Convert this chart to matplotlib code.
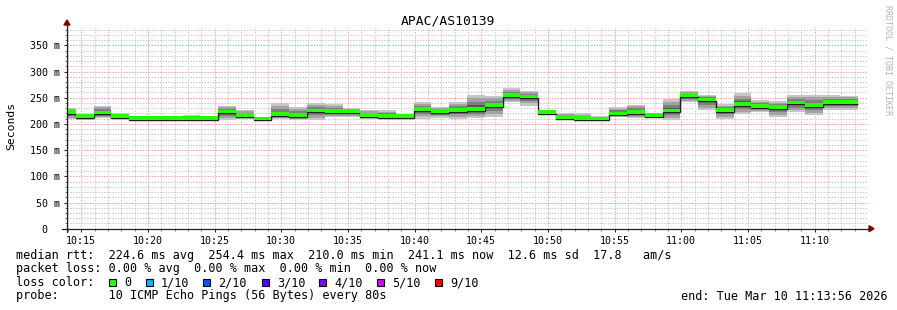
import matplotlib
matplotlib.use("Agg")
import matplotlib.pyplot as plt
import matplotlib.dates as mdates
import matplotlib.ticker as ticker
from matplotlib.lines import Line2D
from matplotlib.patches import Polygon, Rectangle
import numpy as np
import pandas as pd

# --- data ------------------------------------------------------------------
title = "APAC/AS10139"
first_edge = "2026-03-10 10:13:16"
step = "80s"
view_start = "2026-03-10 10:13:56"
view_end = "2026-03-10 11:13:56"

median_ms = [222, 214, 221, 215, 210.5, 210.5, 210.5, 210.5, 210.5, 223,
             217, 210, 218, 216.5, 225, 224, 224, 217, 215, 214,
             227.5, 224, 226, 228.5, 235.5, 254.5, 252, 222, 213, 211,
             210, 219.5, 222.5, 216, 225, 254, 246, 226, 238, 234,
             232, 240.5, 235, 241, 241]
smoke_lo = [209, 208, 211, 211, 209, 209, 209, 209, 209, 208,
            210, 208, 210, 208, 208, 213, 213, 210, 211, 211,
            210, 211, 210, 211, 213, 241, 235, 217, 210, 209,
            207, 213, 211, 211, 208, 241, 226, 210, 218, 222,
            213, 222, 217, 227.5, 226]
smoke_hi = [230, 218, 235, 220, 212, 212, 212, 217, 212, 235,
            226, 211, 240, 232, 240, 238, 231, 226, 226, 219,
            241, 233, 241, 256, 253, 268, 263, 226, 221, 220,
            215.5, 232.5, 237, 221, 247, 262, 256, 238, 259, 245,
            243, 256, 256, 256, 254]

y_ticks = [0, 50, 100, 150, 200, 250, 300, 350]
y_tick_labels = ["0  ", "50 m", "100 m", "150 m", "200 m", "250 m", "300 m", "350 m"]

loss_labels = ["0", "1/10", "2/10", "3/10", "4/10", "5/10", "9/10"]
loss_colors = ["#26ff00", "#00b8ff", "#0059ff", "#5e00ff", "#7e00ff", "#dd00ff", "#ff0000"]

stats_rtt = "median rtt:  224.6 ms avg  254.4 ms max  210.0 ms min  241.1 ms now  12.6 ms sd  17.8   am/s"
stats_loss = "packet loss: 0.00 % avg  0.00 % max  0.00 % min  0.00 % now"
probe_text = "probe:       10 ICMP Echo Pings (56 Bytes) every 80s"
end_text = "end: Tue Mar 10 11:13:56 2026"
watermark = "RRDTOOL / TOBI OETIKER"

# --- layout helpers (pixel -> figure fraction) ------------------------------
W, H = 897, 310
MONO = "DejaVu Sans Mono"


def fx(x):
    return x / W


def fy(y):
    return 1 - y / H


fig = plt.figure(figsize=(W / 100, H / 100), dpi=100)
fig.patch.set_facecolor("white")

ax_left, ax_right, ax_top, ax_bottom = 67, 867, 27, 228.7
ax = fig.add_axes([fx(ax_left), fy(ax_bottom), (ax_right - ax_left) / W, (ax_bottom - ax_top) / H])
ax.set_facecolor("white")

edges = pd.date_range(first_edge, periods=len(median_ms) + 1, freq=step)
edges_num = mdates.date2num(edges.to_pydatetime())

med = np.array(median_ms, dtype=float)
lo = np.array(smoke_lo, dtype=float)
hi = np.array(smoke_hi, dtype=float)

# smoke, light outside -> darker toward the median
for frac, col in [(1.0, "#c6c6c6"), (0.75, "#a2a2a2"), (0.5, "#7e7e7e"), (0.25, "#555555")]:
    ax.stairs(med + (hi - med) * frac, edges_num, baseline=med - (med - lo) * frac,
              fill=True, color=col, lw=0, zorder=2)

ax.stairs(med - 3.0, edges_num, baseline=None, color="#202020", lw=1.0, zorder=3)
ax.stairs(med + 4.0, edges_num, baseline=med - 3.0, fill=True, color=loss_colors[0], lw=0, zorder=4)

ax.set_xlim(mdates.date2num(pd.Timestamp(view_start)), mdates.date2num(pd.Timestamp(view_end)))
ax.set_ylim(0, 385)

ax.xaxis.set_major_locator(mdates.MinuteLocator(byminute=range(0, 60, 5)))
ax.xaxis.set_minor_locator(mdates.MinuteLocator())
ax.xaxis.set_major_formatter(mdates.DateFormatter("%H:%M"))
ax.yaxis.set_major_locator(ticker.FixedLocator(y_ticks))
ax.yaxis.set_major_formatter(ticker.FixedFormatter(y_tick_labels))
ax.yaxis.set_minor_locator(ticker.MultipleLocator(10))

ax.set_axisbelow(True)
ax.grid(which="minor", color="#c8c8c8", linestyle=(0, (1.4, 1.4)), linewidth=0.72)
ax.grid(which="major", color="#f2a0a0", linestyle=(0, (1.4, 1.4)), linewidth=0.72)

for s in ax.spines.values():
    s.set_visible(False)

ax.tick_params(which="major", direction="out", length=2.2, width=0.7, color="#202020",
               labelsize=7.2, pad=3.2)
ax.tick_params(which="minor", direction="out", length=1.4, width=0.6, color="#606060")
for lab in ax.get_xticklabels() + ax.get_yticklabels():
    lab.set_family(MONO)

# axis lines with rrdtool-like arrows
fig.add_artist(Line2D([fx(67), fx(67)], [fy(232), fy(25)], color="#202020", lw=0.9))
fig.add_artist(Line2D([fx(62), fx(869)], [fy(ax_bottom), fy(ax_bottom)], color="#202020", lw=0.9))
fig.add_artist(Polygon([[fx(64), fy(25)], [fx(70), fy(25)], [fx(67), fy(20)]],
                       closed=True, color="#7f0000", transform=fig.transFigure))
fig.add_artist(Polygon([[fx(869), fy(ax_bottom - 3)], [fx(869), fy(ax_bottom + 3)], [fx(874), fy(ax_bottom)]],
                       closed=True, color="#7f0000", transform=fig.transFigure))

fig.text(fx(448), fy(24), title, family=MONO, fontsize=9.4, ha="center", va="baseline")
fig.text(fx(11), fy(126), "Seconds", family=MONO, fontsize=8.2, rotation=90, ha="center", va="center")
fig.text(fx(888), fy(60), watermark, family=MONO, fontsize=6, rotation=270,
         ha="center", va="center", color="#b4b4b4")

# legend block
fig.text(fx(16), fy(258.5), stats_rtt, family=MONO, fontsize=8.5, va="baseline")
fig.text(fx(16), fy(272), stats_loss, family=MONO, fontsize=8.5, va="baseline")
fig.text(fx(16), fy(286), "loss color:", family=MONO, fontsize=8.5, va="baseline")
box_x = [109, 145.7, 203.3, 261.7, 319.3, 377.3, 435]
for bx, lab, col in zip(box_x, loss_labels, loss_colors):
    fig.add_artist(Rectangle((fx(bx), fy(286)), 7 / W, 7 / H, facecolor=col, edgecolor="black",
                             lw=0.8, transform=fig.transFigure))
    fig.text(fx(bx + 15), fy(286), lab, family=MONO, fontsize=8.5, va="baseline")
fig.text(fx(16), fy(299.5), probe_text, family=MONO, fontsize=8.5, va="baseline")
fig.text(fx(888), fy(299.5), end_text, family=MONO, fontsize=8.5, va="baseline", ha="right")

fig.savefig("out.png", dpi=100, facecolor="white")
